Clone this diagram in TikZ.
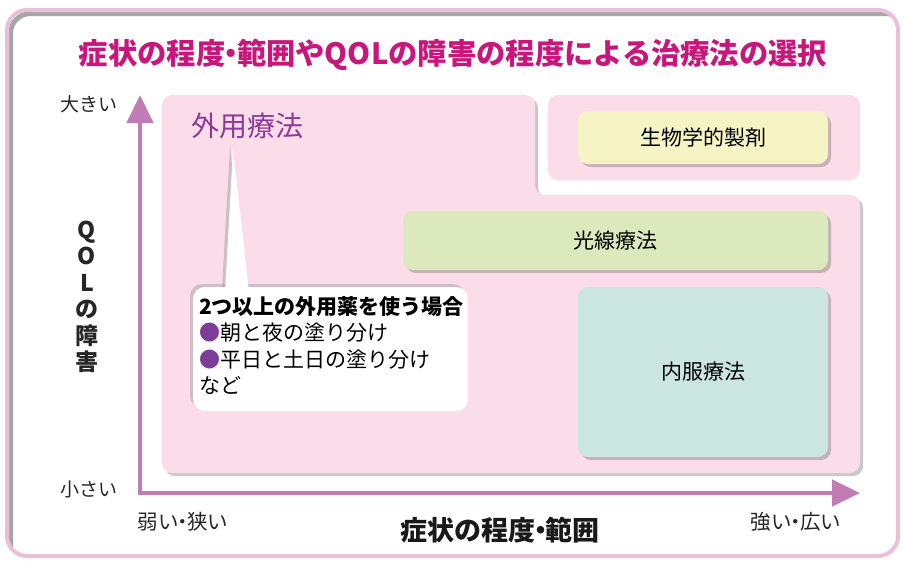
\documentclass[tikz,border=0pt]{standalone}
\usepackage{fontspec}
\setmainfont{Noto Sans CJK JP}
\usetikzlibrary{shadows,arrows.meta}
\definecolor{framepink}{RGB}{233,192,217}
\definecolor{titlemag}{RGB}{200,22,124}
\definecolor{pinkbg}{RGB}{251,221,234}
\definecolor{bioyellow}{RGB}{246,243,196}
\definecolor{lightgreen}{RGB}{220,233,188}
\definecolor{tealbox}{RGB}{203,229,224}
\definecolor{axisc}{RGB}{193,123,181}
\definecolor{gaiyou}{RGB}{140,58,152}
\definecolor{bulletc}{RGB}{125,60,152}
\newcommand\narrowdot{\kern-0.3em・\kern-0.3em}
\tikzset{
  softshadow/.style={drop shadow={shadow xshift=3pt,shadow yshift=-3pt,opacity=0.3,fill=black!70}},
  treatbox/.style={rounded corners=10,inner sep=0pt,softshadow,
    font=\fontsize{21}{24}\selectfont,text=black},
  axislabel/.style={font=\fontsize{19}{22}\selectfont,text=black!85,inner sep=0pt},
}
\begin{document}
\begin{tikzpicture}[x=1pt,y=-1pt]
\useasboundingbox (0,0) rectangle (905,563);
\fill[white] (0,0) rectangle (905,563);
% frame
\begin{scope}
\clip[rounded corners=20] (7,10) rectangle (898,556);
\draw[black!35,line width=5,rounded corners=20] (10.5,13.5) rectangle (906,566);
\end{scope}
\draw[framepink,line width=4,rounded corners=20] (7,10) rectangle (898,556);
% title
\node[font=\fontsize{29.3}{33}\selectfont\bfseries,text=titlemag,inner sep=0pt] (title) at (453,55)
  {症状の程度\narrowdot 範囲やQOLの障害の程度による治療法の選択};
% pink regions
\fill[pinkbg,rounded corners=10,softshadow] (162,95) -- (535,95) -- (535,195) -- (860,195)
  -- (860,473) -- (162,473) -- cycle;
\fill[pinkbg,rounded corners=10] (548,95) rectangle (860,180);
% label
\node[font=\fontsize{28}{32}\selectfont,text=gaiyou,inner sep=0pt] (gaiyou) at (247,126) {外用療法};
% treatment boxes
\node[treatbox,fill=bioyellow,minimum width=250,minimum height=53] (bio) at (703,137.5) {生物学的製剤};
\node[treatbox,fill=lightgreen,minimum width=425,minimum height=59] (light) at (615.5,240.5) {光線療法};
\node[treatbox,fill=tealbox,minimum width=250,minimum height=170] (oral) at (703,372) {内服療法};
% callout
\begin{scope}[shift={(-3,-3)}]
\fill[black!40,opacity=0.45,rounded corners=12] (193,287) rectangle (468,411);
\fill[black!40,opacity=0.45] (225,291) -- (233,149) -- (249,291) -- cycle;
\end{scope}
\fill[white,rounded corners=12] (193,287) rectangle (468,411);
\fill[white] (225,292) -- (233,149) -- (249,292) -- cycle;
\node[anchor=north west,align=left,inner sep=0pt,font=\fontsize{21}{26.5}\selectfont,text=black] (note) at (199,296)
  {{\bfseries 2つ以上の外用薬を使う場合}\\
   \textcolor{bulletc}{●}朝と夜の塗り分け\\
   \textcolor{bulletc}{●}平日と土日の塗り分け\\
   など};
% axes
\coordinate (ytip) at (140,95);
\coordinate (xtip) at (860,493);
\draw[axisc,line width=4.5,line join=miter,
  {Triangle[length=28,width=26]}-{Triangle[length=28,width=26]}] (ytip) |- (xtip);
\node[axislabel] (big) at (89,104) {大きい};
\node[axislabel] (small) at (89,489) {小さい};
\node[axislabel,font=\fontsize{20.5}{23}\selectfont] (weak) at (183,522) {弱い\narrowdot 狭い};
\node[axislabel,font=\fontsize{20.5}{23}\selectfont] (strong) at (796,522) {強い\narrowdot 広い};
\node[font=\fontsize{27}{30}\selectfont\bfseries,text=black!90,inner sep=0pt] (xtitle) at (500,530) {症状の程度\narrowdot 範囲};
\node[align=center,inner sep=0pt,font=\fontsize{23}{26.5}\selectfont\bfseries,text=black!85] (ytitle) at (87,297)
  {Q\\O\\L\\の\\障\\害};
\end{tikzpicture}
\end{document}
